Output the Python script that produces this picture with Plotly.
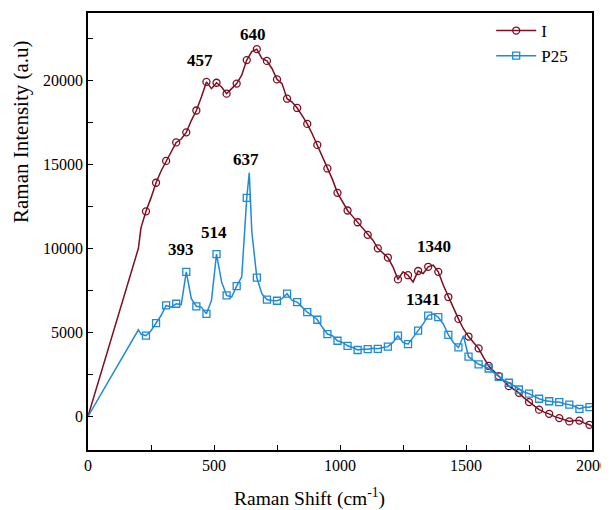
import plotly.graph_objects as go

# ---- data ----
x_I = [0, 200, 210, 230, 250, 270, 290, 310, 330, 350, 370, 390, 410, 430, 450, 470, 490,
       510, 530, 550, 570, 590, 610, 630, 650, 670, 690, 710, 730, 750, 770, 790, 810,
       830, 850, 870, 890, 910, 930, 950, 970, 990, 1010, 1030, 1050, 1070, 1090, 1110,
       1130, 1150, 1170, 1190, 1210, 1230, 1250, 1270, 1290, 1310, 1330, 1350, 1370,
       1390, 1410, 1430, 1450, 1470, 1490, 1510, 1530, 1550, 1570, 1590, 1610, 1630,
       1650, 1670, 1690, 1710, 1730, 1750, 1770, 1790, 1810, 1830, 1850, 1870, 1890,
       1910, 1930, 1950, 1970, 1990, 2000]
y_I = [0, 10000, 11200, 12200, 13000, 13900, 14600, 15200, 15700, 16300, 16500, 16900,
       17600, 18200, 19000, 19900, 19500, 19850, 19600, 19200, 19500, 19800, 20300,
       21200, 21700, 21850, 21300, 21150, 20700, 20050, 19800, 18900, 18700, 18350,
       17900, 17400, 16800, 16150, 15500, 14750, 14100, 13300, 12800, 12250, 11900,
       11550, 11200, 10800, 10500, 10000, 9700, 9450, 8900, 8150, 8600, 8400, 8000,
       8650, 8500, 8900, 9000, 8600, 7800, 7100, 6500, 5800, 5200, 4750, 4400, 4050,
       3500, 3000, 2700, 2400, 2100, 1800, 1600, 1400, 1100, 850, 600, 400, 250, 150,
       0, -100, -200, -300, -250, -250, -400, -500, -600]

x_P25 = [0, 200, 210, 230, 250, 270, 290, 310, 330, 350, 370, 390, 410, 430, 450, 470,
         490, 510, 530, 550, 570, 590, 610, 630, 640, 650, 670, 690, 710, 730, 750, 770,
         790, 810, 830, 850, 870, 890, 910, 930, 950, 970, 990, 1010, 1030, 1050, 1070,
         1090, 1110, 1130, 1150, 1170, 1190, 1210, 1230, 1250, 1270, 1290, 1310, 1330,
         1350, 1370, 1390, 1410, 1430, 1450, 1470, 1490, 1510, 1530, 1550, 1570, 1590,
         1610, 1630, 1650, 1670, 1690, 1710, 1730, 1750, 1770, 1790, 1810, 1830, 1850,
         1870, 1890, 1910, 1930, 1950, 1970, 1990, 2000]
y_P25 = [0, 5150, 4900, 4800, 5100, 5550, 6000, 6600, 6500, 6700, 6650, 8600, 7000,
         6550, 6500, 6100, 6900, 9650, 8000, 7200, 7100, 7750, 8300, 13000, 14500, 11000,
         8250, 7300, 6950, 6900, 6880, 7000, 7300, 6900, 6800, 6500, 6200, 6000, 5750,
         5300, 4900, 4800, 4500, 4400, 4200, 4100, 3950, 4000, 4000, 4050, 4020, 4100,
         4150, 4400, 4800, 4400, 4300, 4700, 5100, 5500, 6000, 6100, 5900, 5500, 4850,
         4400, 4100, 4800, 3550, 3300, 3100, 3000, 2850, 2600, 2350, 2150, 2000, 1800,
         1600, 1450, 1350, 1200, 1050, 950, 900, 850, 850, 750, 700, 600, 450, 550, 550,
         600]

peak_labels = ["457", "640", "637", "393", "514", "1340", "1341"]
peak_x = [443, 655, 628, 370, 498, 1373, 1331]
peak_y = [21170, 22700, 15290, 9950, 10940, 10110, 6980]

x_ticks = [0, 500, 1000, 1500, 2000]
x_ticktext = ["0", "500", "1000", "1500", "2000"]
y_ticks = [0, 5000, 10000, 15000, 20000]
y_ticktext = ["0", "5000", "10000", "15000", "20000"]

x_title = "Raman Shift (cm<sup>-1</sup>)"
y_title = "Raman Intensity (a.u)"

RED = "#7f0c20"
BLUE = "#1f8ad8"
FONT = "Liberation Serif"


def marked(xs, ys):
    pts = [(a, b) for a, b in zip(xs, ys) if a >= 230 and (a - 230) % 40 == 0]
    return [p[0] for p in pts], [p[1] for p in pts]


fig = go.Figure()
series = [("I", x_I, y_I, RED, "circle-open"), ("P25", x_P25, y_P25, BLUE, "square-open")]
for name, xs, ys, col, sym in series:
    fig.add_trace(go.Scatter(x=xs, y=ys, mode="lines", line=dict(color=col, width=1.5),
                             showlegend=False, hoverinfo="skip"))
    mx, my = marked(xs, ys)
    fig.add_trace(go.Scatter(x=mx, y=my, mode="markers",
                             marker=dict(symbol=sym, size=7, color=col, line=dict(width=1.3, color=col)),
                             showlegend=False))
    fig.add_trace(go.Scatter(x=[None], y=[None], mode="lines+markers", name=name,
                             line=dict(color=col, width=1.5),
                             marker=dict(symbol=sym, size=7, color=col, line=dict(width=1.3, color=col))))

for t, px, py in zip(peak_labels, peak_x, peak_y):
    fig.add_annotation(x=px, y=py, text="<b>" + t + "</b>", showarrow=False,
                       font=dict(family=FONT, size=17, color="black"))

# axis titles (placed as in the reference, which is off-centre)
fig.add_annotation(xref="paper", yref="paper", x=0.4385, y=-0.1076, text=x_title,
                   showarrow=False, xanchor="center", yanchor="middle",
                   font=dict(family=FONT, size=19.5, color="black"))
fig.add_annotation(xref="paper", yref="paper", x=-0.133, y=0.730, text=y_title,
                   showarrow=False, textangle=-90, xanchor="center", yanchor="middle",
                   font=dict(family=FONT, size=21, color="black"))

axis_common = dict(showgrid=False, zeroline=False, showline=True, linecolor="black",
                   linewidth=1.5, mirror=True, ticks="inside", ticklen=5, tickwidth=1,
                   tickcolor="black", automargin=False,
                   tickfont=dict(family=FONT, size=16, color="black"))

fig.update_xaxes(range=[0, 2000], tickvals=x_ticks, ticktext=x_ticktext,
                 minor=dict(dtick=250, ticks="inside", ticklen=5, tickcolor="black"),
                 **axis_common)
fig.update_yaxes(range=[-2000, 24000], tickvals=y_ticks, ticktext=y_ticktext,
                 minor=dict(dtick=2500, ticks="inside", ticklen=5, tickcolor="black"),
                 **axis_common)

fig.update_layout(width=601, height=502, margin=dict(l=80, r=17, t=5, b=60),
                  plot_bgcolor="white", paper_bgcolor="white",
                  legend=dict(x=0.80, y=1.0, xanchor="left", yanchor="top",
                              bgcolor="rgba(0,0,0,0)", font=dict(family=FONT, size=17, color="black"),
                              itemwidth=40))

fig.write_html("out.html")
